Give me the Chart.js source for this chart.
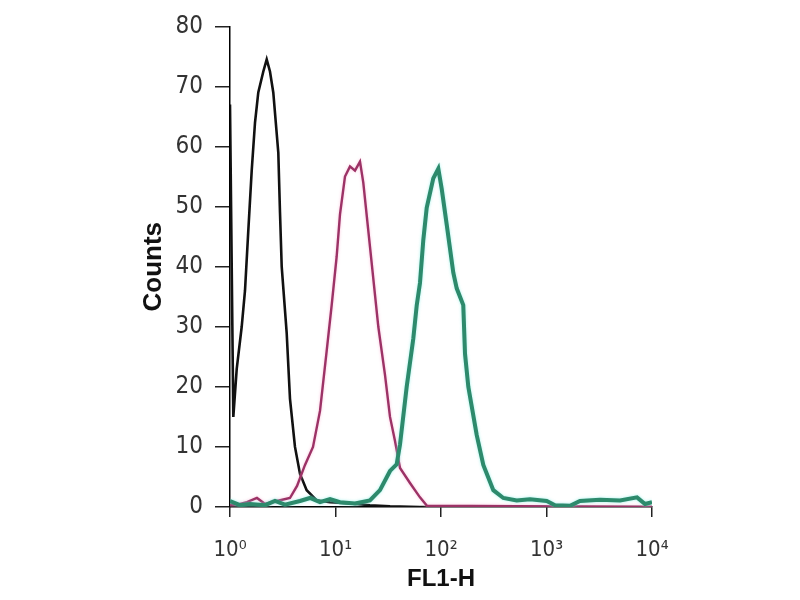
<!DOCTYPE html>
<html>
<head>
<meta charset="utf-8">
<script src="https://cdn.jsdelivr.net/npm/chart.js@4/dist/chart.umd.min.js"></script>
<style>
  html, body { margin: 0; padding: 0; background: #fff; }
  #wrap { width: 800px; height: 600px; }
</style>
</head>
<body>
<div id="wrap"><canvas id="histChart"></canvas></div>
<script>
// axis ticks
const xTicks = [1, 10, 100, 1000, 10000];
const xTickLabels = ['10⁰', '10¹', '10²', '10³', '10⁴'];
const yTicks = [0, 10, 20, 30, 40, 50, 60, 70, 80];

// black (control) histogram
const blackX = [1.0, 1.075, 1.158, 1.291, 1.387, 1.491, 1.606, 1.726, 1.854, 2.069, 2.228, 2.393, 2.572, 2.87, 2.978, 3.091, 3.445, 3.704, 4.13, 4.61, 5.33, 6.64, 8.87, 13.7, 21.2, 32.9, 63.2, 10000];
const blackY = [67, 15, 23, 30, 36, 46, 56, 64, 69, 72.5, 74.5, 72.5, 69, 59, 49, 40, 29, 18, 10, 5.5, 2.8, 1.1, 0.8, 0.6, 0.3, 0.1, 0, 0];

// magenta histogram
const magentaX = [1.0, 1.244, 1.45, 1.8, 2.15, 2.79, 3.7, 4.32, 5.14, 6.12, 7.13, 8.25, 9.2, 10.26, 11.03, 12.3, 13.72, 15.3, 17.07, 18.34, 20.46, 22.82, 25.46, 29.45, 32.86, 36.65, 40.88, 50.8, 63.2, 73.6, 10000];
const magentaY = [0.3, 0.5, 0.8, 1.5, 0.5, 1.0, 1.5, 3.5, 7, 10, 16, 26, 33.6, 41.7, 48.7, 55, 56.7, 56, 57.5, 54, 46, 38, 30, 22, 15, 11, 6.5, 4, 1.6, 0.2, 0];

// teal histogram
const tealX = [1.0, 1.244, 1.547, 2.15, 2.67, 3.32, 4.61, 5.73, 7.13, 8.87, 11.03, 15.3, 21.2, 26.4, 32.86, 38.0, 40.88, 47.3, 54.6, 58.9, 63.2, 68.0, 73.2, 84.5, 94.3, 101.5, 113.3, 130.8, 140.9, 162.6, 168.9, 181.5, 217.9, 251.8, 313.3, 389.5, 521.9, 697.7, 1004, 1204, 1670, 2077, 3214, 4977, 7211, 8590, 10000];
const tealY = [1.0, 0.3, 0.5, 0.3, 1.0, 0.4, 1.0, 1.5, 0.8, 1.3, 0.8, 0.6, 1.1, 2.8, 6, 7.1, 10.4, 20, 28, 33.6, 37.3, 44.5, 49.8, 54.7, 56.3, 53, 47, 39, 36.4, 33.6, 25.5, 20, 12, 7, 2.8, 1.5, 1.1, 1.3, 1.0, 0.3, 0.2, 1.0, 1.2, 1.1, 1.6, 0.5, 0.8];

function toPoints(xs, ys) {
    const pts = [];
    for (let i = 0; i < xs.length; i++) {
        pts.push({ x: xs[i], y: ys[i] });
    }
    return pts;
}

// soft coloured halo round the coloured traces
const haloPlugin = {
    id: 'halo',
    beforeDatasetDraw(chart, args) {
        const glow = chart.data.datasets[args.index].glow;
        if (glow) {
            chart.ctx.save();
            chart.ctx.shadowColor = glow;
            chart.ctx.shadowBlur = 3;
        }
    },
    afterDatasetDraw(chart, args) {
        if (chart.data.datasets[args.index].glow) chart.ctx.restore();
    }
};

const tickFont = { family: "'Liberation Sans Narrow', 'DejaVu Sans Condensed', 'Arial Narrow', sans-serif" };

new Chart(document.getElementById('histChart'), {
    type: 'line',
    data: {
        datasets: [
            { label: 'teal', data: toPoints(tealX, tealY), borderColor: '#2d8a6c', borderWidth: 4, glow: 'rgba(120,235,225,0.7)' },
            { label: 'magenta', data: toPoints(magentaX, magentaY), borderColor: '#9c3266', borderWidth: 2.4, glow: 'rgba(250,170,205,0.7)' },
            { label: 'black', data: toPoints(blackX, blackY), borderColor: '#111', borderWidth: 2.6 }
        ]
    },
    options: {
        responsive: true,
        maintainAspectRatio: false,
        animation: false,
        layout: { padding: { left: 0, right: 148, top: 14, bottom: 0 } },
        elements: { point: { radius: 0 }, line: { tension: 0 } },
        plugins: { legend: { display: false }, tooltip: { enabled: false } },
        scales: {
            x: {
                type: 'logarithmic',
                min: 1,
                max: 10000,
                afterBuildTicks: s => { s.ticks = xTicks.map(v => ({ value: v })); },
                afterFit: s => { s.height = 93; },
                border: { display: true, color: '#000', width: 1.5 },
                grid: { drawOnChartArea: false, color: '#222', tickLength: 10, lineWidth: 1.5 },
                ticks: {
                    color: '#333',
                    padding: 20,
                    maxRotation: 0,
                    autoSkip: false,
                    font: { ...tickFont, size: 22 },
                    callback: (v, i) => xTickLabels[i]
                },
                title: {
                    display: true,
                    text: 'FL1-H',
                    color: '#111',
                    font: { family: 'Arial, Liberation Sans, sans-serif', size: 24, weight: 'bold' },
                    padding: { top: 0, bottom: 6 }
                }
            },
            y: {
                min: 0,
                max: 80,
                afterBuildTicks: s => { s.ticks = yTicks.map(v => ({ value: v })); },
                afterFit: s => { s.width = 230; },
                border: { display: true, color: '#000', width: 1.5 },
                grid: { drawOnChartArea: false, color: '#222', tickLength: 15, lineWidth: 1.5 },
                ticks: {
                    color: '#333',
                    padding: 12,
                    font: { ...tickFont, size: 24 }
                },
                title: {
                    display: true,
                    text: 'Counts',
                    color: '#111',
                    font: { family: 'Arial, Liberation Sans, sans-serif', size: 26, weight: 'bold' },
                    padding: { top: 138, bottom: 0 }
                }
            }
        }
    },
    plugins: [haloPlugin]
});
</script>
</body>
</html>
